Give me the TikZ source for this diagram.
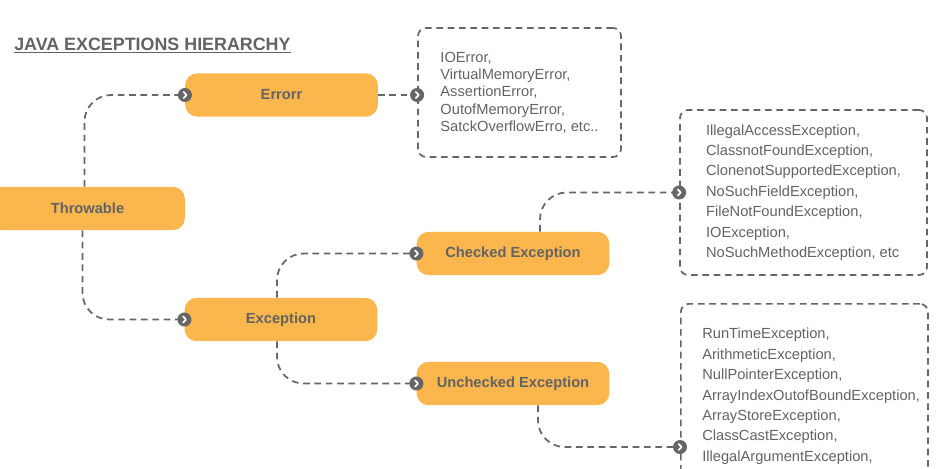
\documentclass[tikz,border=0pt]{standalone}
\usepackage{fontspec}
\setmainfont{Liberation Sans}
\usetikzlibrary{calc}
\definecolor{boxorange}{HTML}{FBB64D}
\definecolor{txtgrey}{HTML}{636363}
\definecolor{lngrey}{HTML}{666666}
\tikzset{
	block/.style={rectangle, rounded corners=9pt, fill=boxorange, text=txtgrey, font=\fontsize{11}{13}\selectfont\bfseries, minimum width=144.5pt, minimum height=32.5pt},
	listbox/.style={rectangle, rounded corners=6pt, draw=lngrey, line width=1.3pt, dash pattern=on 5pt off 3.5pt},
	listtext/.style={align=left, text=txtgrey, inner sep=0pt, font=\fontsize{11}{15.3}\selectfont},
	link/.style={draw=lngrey, line width=1.3pt, dash pattern=on 5pt off 3.5pt, rounded corners=20pt},
	pointer/.style={circle, fill=lngrey, inner sep=0pt, minimum size=10.5pt,
		path picture={\draw[white, line width=1.3pt, line cap=round, line join=round]
			($(path picture bounding box.center)+(-1pt,2.3pt)$) -- ++(2.2pt,-2.3pt) -- ++(-2.2pt,-2.3pt);}}
}
\begin{document}
\begin{tikzpicture}[x=0.75pt, y=-0.75pt]
			%%%%% START %%%%%
			\useasboundingbox (0, 0) rectangle (944, 468);
			\clip (0, 0) rectangle (944, 468);
			
			\node[anchor=base west, inner sep=0pt, text=txtgrey, font=\fontsize{13.4}{15}\selectfont\bfseries] (title) at (14, 50) {\underline{JAVA EXCEPTIONS HIERARCHY}};
			
			% boxes
			\node[block, minimum width=146pt] (thr) at (87.5, 208.5) {Throwable};
			\node[block] (err) at (281.5, 95) {Errorr};
			\node[block] (exc) at (281, 319.5) {Exception};
			\node[block] (chk) at (513, 253.5) {Checked Exception};
			\node[block] (unc) at (513, 383.5) {Unchecked Exception};
			
			% lists
			\node[listbox, listtext, inner sep=0pt, minimum width=152.25pt, minimum height=96.75pt, font=\fontsize{11}{13}\selectfont] (errl) at (519.5, 92.5) {IOError,\\VirtualMemoryError,\\AssertionError,\\OutofMemoryError,\\SatckOverflowErro, etc..};
			\node[listbox, listtext, inner sep=0pt, minimum width=185.25pt, minimum height=123.75pt] (chkl) at (803.5, 192.5) {IllegalAccessException,\\ClassnotFoundException,\\ClonenotSupportedException,\\NoSuchFieldException,\\FileNotFoundException,\\IOException,\\NoSuchMethodException, etc};
			\node[listbox, anchor=north west, minimum width=185.25pt, minimum height=210pt] (unl) at (680, 303) {};
			\node[listtext, anchor=north west] (unt) at ($(unl.north west)+(22, 25)$) {RunTimeException,\\ArithmeticException,\\NullPointerException,\\ArrayIndexOutofBoundException,\\ArrayStoreException,\\ClassCastException,\\IllegalArgumentException,};
			\coordinate (unin) at ($(unl.north west)+(0, 144)$);
			
			% connectors
			\draw[link] ($(thr.north)+(-3, 0)$) |- (err.west);
			\draw[link] ($(thr.south)+(-5, 0)$) |- (exc.west);
			\draw[link] (err.east) -- (err.east -| errl.west);
			\draw[link] ($(exc.north)+(-4, 0)$) |- (chk.west);
			\draw[link] ($(exc.south)+(-4, 0)$) |- (unc.west);
			\draw[link] ($(chk.north)+(27, 0)$) |- (chkl.west);
			\draw[link] ($(unc.south)+(25, 0)$) |- (unin);
			
			% pointers
			\node[pointer] at (err.west) {};
			\node[pointer] at (exc.west) {};
			\node[pointer] at (err.east -| errl.west) {};
			\node[pointer] at (chk.west) {};
			\node[pointer] at (unc.west) {};
			\node[pointer] at (chkl.west) {};
			\node[pointer] at (unin) {};
			%%%%% END %%%%%
\end{tikzpicture}
\end{document}
